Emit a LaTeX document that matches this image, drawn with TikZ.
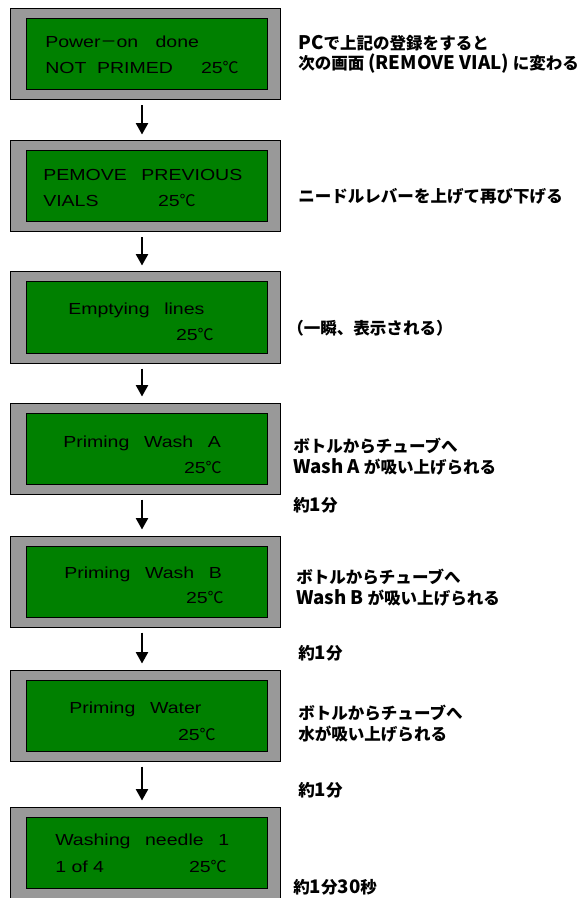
\documentclass[tikz,border=0pt]{standalone}
\usepackage{fontspec}
\usepackage{tikz}
\usetikzlibrary{arrows.meta,positioning}
\newfontfamily\lcdfont{Liberation Sans}[FakeStretch=1.22]
\newfontfamily\cjk{Noto Sans CJK JP}
\newcommand\degc{{\cjk ℃}}
\newcommand\wgap{\hspace{11pt}}
\newcommand\lat[1]{{\fontsize{14}{15.5}\selectfont #1}}
\definecolor{lcdgray}{RGB}{153,153,153}
\definecolor{lcdgreen}{RGB}{0,128,0}
\tikzset
{
  lcdframe/.style  = {rectangle, draw=black, fill=lcdgray, line width=0.75pt, minimum width=202.5pt, minimum height=68.25pt, inner sep=0pt},
  lcdscreen/.style = {rectangle, draw=black, fill=lcdgreen, line width=0.75pt, minimum width=180.75pt, minimum height=53.25pt, inner sep=0pt},
  lcdtext/.style   = {font=\lcdfont\fontsize{12}{14}\selectfont, inner sep=0pt, anchor=base west},
  lcdtemp/.style   = {font=\lcdfont\fontsize{12}{14}\selectfont, inner sep=0pt, anchor=base east},
  note/.style      = {font=\cjk\bfseries\fontsize{12.4}{15.5}\selectfont, inner sep=0pt, anchor=base west, align=left}
}
\begin{document}
\begin{tikzpicture}[->,>={Triangle[length=8.5pt,width=9pt]},x=0.75pt,y=-0.75pt]
  \useasboundingbox (0,0) rectangle (586,898);
  % displays
  \foreach \ytop [count=\i] in {9,141,272,403,536,670,807}
  {
    \node [lcdframe] (lcd\i) at (145,\ytop+45.5) {};
    \node [lcdscreen] (scr\i) at (146.5,\ytop+45.5) {};
  }
  % steps
  \foreach \i [evaluate=\i as \j using int(\i+1)] in {1,...,6}
    \draw [line width=1.5pt] ([xshift=-2.25pt,yshift=-3.75pt]lcd\i.south) -- ([xshift=-2.25pt,yshift=4.5pt]lcd\j.north);
  % screen texts
  \node [lcdtext] (t1a) at (45,48) {Power{\cjk －}on\hspace{13pt}done};
  \node [lcdtext] (t1b) at (45,74) {NOT\hspace{8pt}PRIMED};
  \node [lcdtemp] (c1) at (239,74) {25\degc};
  \node [lcdtext] (t2a) at (43,181) {PEMOVE\wgap PREVIOUS};
  \node [lcdtext] (t2b) at (43,207) {VIALS};
  \node [lcdtemp] (c2) at (196,207) {25\degc};
  \node [lcdtext] (t3a) at (68,315) {Emptying\wgap lines};
  \node [lcdtemp] (c3) at (214,340) {25\degc};
  \node [lcdtext] (t4a) at (63,447) {Priming\wgap Wash\wgap A};
  \node [lcdtemp] (c4) at (222,473) {25\degc};
  \node [lcdtext] (t5a) at (64,578) {Priming\wgap Wash\wgap B};
  \node [lcdtemp] (c5) at (224,603) {25\degc};
  \node [lcdtext] (t6a) at (69,713) {Priming\wgap Water};
  \node [lcdtemp] (c6) at (216,740) {25\degc};
  \node [lcdtext] (t7a) at (55,845) {Washing\wgap needle\wgap 1};
  \node [lcdtext] (t7b) at (55,872) {1 of 4};
  \node [lcdtemp] (c7) at (227,872) {25\degc};
  % notes (base = last line)
  \node [note] (n1) at (298,70) {\lat{PC}で上記の登録をすると\\次の画面 \lat{(REMOVE VIAL)} に変わる};
  \node [note] (n2) at (298,203) {ニードルレバーを上げて再び下げる};
  \node [note] (n3) at (287,334) {（一瞬、表示される）};
  \node [note] (n4) at (293,473) {ボトルからチューブへ\\\lat{Wash A} が吸い上げられる};
  \node [note] (m4) at (293,511) {約\lat{1}分};
  \node [note] (n5) at (296,604) {ボトルからチューブへ\\\lat{Wash B} が吸い上げられる};
  \node [note] (m5) at (298,659) {約\lat{1}分};
  \node [note] (n6) at (298,740) {ボトルからチューブへ\\水が吸い上げられる};
  \node [note] (m6) at (298,796) {約\lat{1}分};
  \node [note] (m7) at (293,893) {約\lat{1}分\lat{30}秒};
\end{tikzpicture}
\end{document}
